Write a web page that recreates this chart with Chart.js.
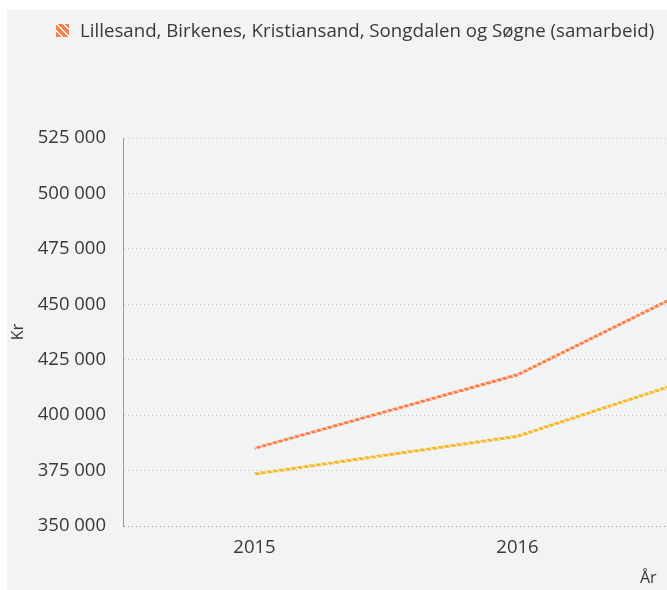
<!DOCTYPE html>
<html lang="no">
<head>
<meta charset="utf-8">
<title>Kr per år</title>
<script src="https://cdn.jsdelivr.net/npm/chart.js@4.4.1/dist/chart.umd.min.js"></script>
<style>
    html, body { margin: 0; padding: 0; background: #fff; overflow: hidden; width: 667px; height: 590px; }
    #panel {
        position: absolute; left: 7px; top: 10px; width: 915px; height: 580px;
        background: #f1f4f3; font-family: "Open Sans", sans-serif; color: #383838;
    }
    #wrap { position: absolute; left: 0; top: 0; width: 915px; height: 580px; }
    #legend { position: absolute; left: 49px; top: 8px; display: flex; white-space: nowrap; font-size: 18.7px; line-height: 24px; }
    .item { display: flex; align-items: center; margin-right: 60px; }
    .box { width: 13px; height: 13px; margin-right: 11px; }
    #xTitle { position: absolute; left: 633px; top: 557px; font-size: 16px; line-height: 20px; }
</style>
</head>
<body>
<div id="panel">
    <div id="wrap"><canvas id="GrapheKr"></canvas></div>
    <div id="legend"></div>
    <div id="xTitle">År</div>
</div>
<script>
const years = ["2015", "2016", "2017"];
const samarbeid = [385000, 418200, 476700];
const landet = [373500, 390500, 429300];

const seriesNames = ["Lillesand, Birkenes, Kristiansand, Songdalen og Søgne (samarbeid)", "Landet uten Oslo"];
const seriesColors = ["#f97f4b", "#f4b92f"];

const yMin = 350000;
const yMax = 525000;
const yStep = 25000;

Chart.defaults.font.family = '"Open Sans", sans-serif';
Chart.defaults.color = "#383838";

// Stripete mønster (som i legenden) for linjene
function stripes(color) {
    const c = document.createElement("canvas");
    c.width = 7;
    c.height = 7;
    const ctx = c.getContext("2d");
    ctx.fillStyle = color;
    ctx.fillRect(0, 0, 7, 7);
    ctx.strokeStyle = "rgba(255,255,255,0.75)";
    ctx.lineWidth = 1.4;
    ctx.beginPath();
    ctx.moveTo(-1, -1); ctx.lineTo(8, 8);
    ctx.moveTo(-8, -1); ctx.lineTo(1, 8);
    ctx.moveTo(6, -1); ctx.lineTo(15, 8);
    ctx.stroke();
    return ctx.createPattern(c, "repeat");
}

function formatKr(value) {
    return String(value).replace(/\B(?=(\d{3})+(?!\d))/g, " ");
}

function buildLegend() {
    const legend = document.getElementById("legend");
    seriesNames.forEach((name, i) => {
        const item = document.createElement("div");
        item.className = "item";
        const box = document.createElement("span");
        box.className = "box";
        box.style.background = `repeating-linear-gradient(45deg, ${seriesColors[i]} 0 4px, rgba(255,255,255,0.55) 4px 5px)`;
        const txt = document.createElement("span");
        txt.textContent = name;
        item.appendChild(box);
        item.appendChild(txt);
        legend.appendChild(item);
    });
}

function grapheKr() {
    const canvas = document.getElementById("GrapheKr");
    const values = [samarbeid, landet];

    new Chart(canvas, {
        type: "line",
        data: {
            labels: years,
            datasets: values.map((data, i) => ({
                label: seriesNames[i],
                data,
                borderColor: stripes(seriesColors[i]),
                borderWidth: 3,
                pointRadius: 0,
                tension: 0
            }))
        },
        options: {
            responsive: true,
            maintainAspectRatio: false,
            animation: false,
            layout: { padding: { top: 128, right: 10, left: 0, bottom: 0 } },
            plugins: {
                legend: { display: false },
                tooltip: { enabled: false }
            },
            scales: {
                x: {
                    offset: true,
                    grid: { display: false },
                    border: { display: false },
                    ticks: { font: { size: 18.5 }, padding: 3 },
                    afterFit(scale) { scale.height = 64; }
                },
                y: {
                    min: yMin,
                    max: yMax,
                    ticks: {
                        stepSize: yStep,
                        padding: 17,
                        font: { size: 18.5 },
                        callback: v => formatKr(v)
                    },
                    grid: {
                        drawTicks: false,
                        color: ctx => ctx.tick && ctx.tick.value === yMin ? "#8a8a8a" : "#c4c4c4"
                    },
                    border: { color: "#9a9a9a", dash: [1, 3] },
                    title: {
                        display: true,
                        text: "Kr",
                        font: { size: 16 },
                        padding: { top: 2, bottom: 0 }
                    },
                    afterFit(scale) { scale.width = 116; }
                }
            }
        }
    });
}

buildLegend();
grapheKr();
</script>
</body>
</html>
